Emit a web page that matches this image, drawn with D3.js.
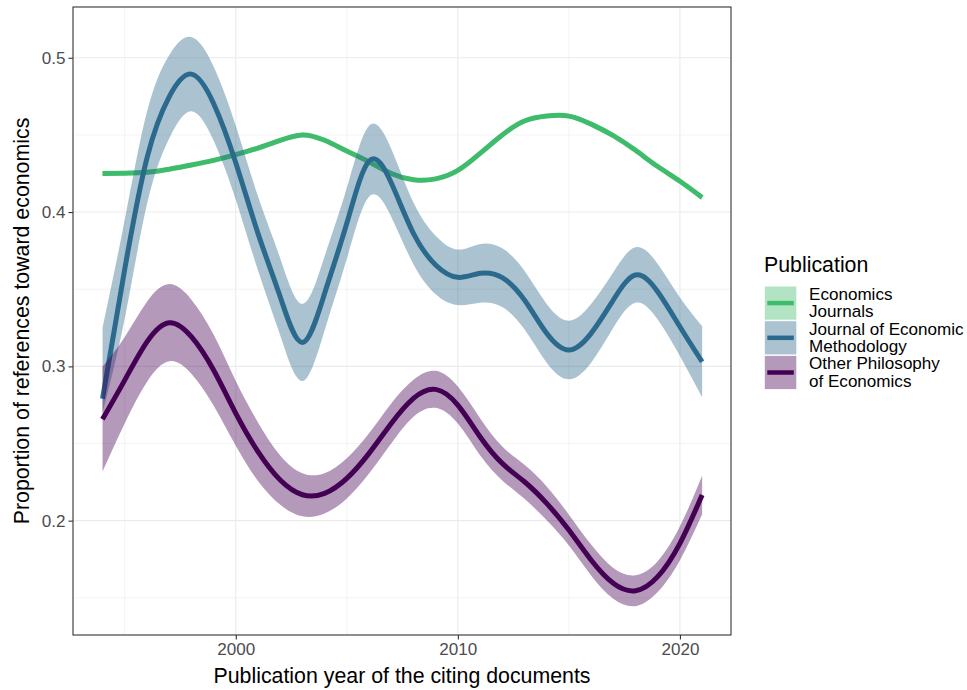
<!DOCTYPE html>
<html>
<head>
<meta charset="utf-8">
<script src="https://cdn.jsdelivr.net/npm/d3@7"></script>
<style>
  html, body { margin: 0; padding: 0; background: #ffffff; }
  svg { display: block; }
  text { font-family: "Liberation Sans", Arial, Helvetica, sans-serif; }
</style>
</head>
<body>
<svg id="chart" width="967" height="690"></svg>
<script>
// Publication years of the citing documents
const years = [1994, 1995, 1996, 1997, 1998, 1999, 2000, 2001, 2002, 2003, 2004, 2005, 2006, 2007,
               2008, 2009, 2010, 2011, 2012, 2013, 2014, 2015, 2016, 2017, 2018, 2019, 2020, 2021];

// Economics Journals: smoothed proportion and its (very narrow) confidence band
const econMean = [0.4250, 0.4252, 0.4258, 0.4278, 0.4305, 0.4335, 0.4372, 0.4415, 0.4465, 0.4500, 0.4465, 0.4395, 0.4325, 0.4250,
                  0.4210, 0.4215, 0.4270, 0.4380, 0.4500, 0.4590, 0.4622, 0.4622, 0.4570, 0.4495, 0.4400, 0.4295, 0.4200, 0.4095];
const econLow  = [0.4235, 0.4238, 0.4244, 0.4264, 0.4291, 0.4321, 0.4358, 0.4401, 0.4451, 0.4486, 0.4451, 0.4381, 0.4311, 0.4236,
                  0.4196, 0.4201, 0.4256, 0.4366, 0.4486, 0.4576, 0.4608, 0.4608, 0.4556, 0.4481, 0.4386, 0.4281, 0.4186, 0.4078];
const econHigh = [0.4265, 0.4266, 0.4272, 0.4292, 0.4319, 0.4349, 0.4386, 0.4429, 0.4479, 0.4514, 0.4479, 0.4409, 0.4339, 0.4264,
                  0.4224, 0.4229, 0.4284, 0.4394, 0.4514, 0.4604, 0.4636, 0.4636, 0.4584, 0.4509, 0.4414, 0.4309, 0.4214, 0.4112];

// Journal of Economic Methodology
const jemMean = [0.2790, 0.3630, 0.4350, 0.4747, 0.4894, 0.4704, 0.4320, 0.3862, 0.3451, 0.3155, 0.3473, 0.3927, 0.4330, 0.4190,
                 0.3862, 0.3657, 0.3577, 0.3603, 0.3575, 0.3430, 0.3214, 0.3106, 0.3214, 0.3430, 0.3592, 0.3484, 0.3257, 0.3030];
const jemLow  = [0.2700, 0.3310, 0.4050, 0.4477, 0.4654, 0.4464, 0.4080, 0.3622, 0.3201, 0.2905, 0.3233, 0.3697, 0.4100, 0.3970,
                 0.3662, 0.3467, 0.3397, 0.3413, 0.3385, 0.3240, 0.3024, 0.2916, 0.3024, 0.3250, 0.3412, 0.3304, 0.3067, 0.2800];
const jemHigh = [0.3250, 0.3950, 0.4650, 0.5017, 0.5134, 0.4944, 0.4560, 0.4102, 0.3701, 0.3405, 0.3713, 0.4157, 0.4560, 0.4410,
                 0.4062, 0.3847, 0.3757, 0.3793, 0.3765, 0.3620, 0.3404, 0.3296, 0.3404, 0.3610, 0.3772, 0.3664, 0.3447, 0.3260];

// Other Philosophy of Economics
const otherMean = [0.2658, 0.2911, 0.3159, 0.3283, 0.3192, 0.2976, 0.2695, 0.2447, 0.2263, 0.2168, 0.2177, 0.2274, 0.2436, 0.2630,
                   0.2793, 0.2851, 0.2749, 0.2544, 0.2371, 0.2252, 0.2112, 0.1939, 0.1745, 0.1594, 0.1546, 0.1637, 0.1853, 0.2166];
const otherLow  = [0.2318, 0.2631, 0.2899, 0.3033, 0.2952, 0.2746, 0.2485, 0.2257, 0.2103, 0.2028, 0.2047, 0.2144, 0.2306, 0.2500,
                   0.2673, 0.2731, 0.2629, 0.2424, 0.2261, 0.2142, 0.2002, 0.1839, 0.1645, 0.1494, 0.1446, 0.1537, 0.1743, 0.2041];
const otherHigh = [0.2998, 0.3191, 0.3419, 0.3533, 0.3432, 0.3206, 0.2905, 0.2637, 0.2423, 0.2308, 0.2307, 0.2404, 0.2566, 0.2760,
                   0.2913, 0.2971, 0.2869, 0.2664, 0.2481, 0.2362, 0.2222, 0.2039, 0.1845, 0.1694, 0.1646, 0.1737, 0.1963, 0.2291];

const seriesNames  = ["Economics Journals", "Journal of Economic Methodology", "Other Philosophy of Economics"];
const legendLines  = [["Economics", "Journals"], ["Journal of Economic", "Methodology"], ["Other Philosophy", "of Economics"]];
const seriesColors = ["#3fbc6b", "#2c6a8d", "#440154"];

const xTicks = [2000, 2010, 2020];
const xMinorTicks = [1995, 2005, 2015];
const yTicks = [0.2, 0.3, 0.4, 0.5];
const yMinorTicks = [0.15, 0.25, 0.35, 0.45];

const axisTitleX = "Publication year of the citing documents";
const axisTitleY = "Proportion of references toward economics";
const legendTitle = "Publication";

// ---- layout ----
const panel = { left: 73, right: 731, top: 7, bottom: 635 };
const svg = d3.select("#chart");

const x = d3.scaleLinear().domain([1992.67, 2022.3]).range([panel.left, panel.right]);
const y = d3.scaleLinear().domain([0.1259, 0.5329]).range([panel.bottom, panel.top]);

const series = [
  { mean: econMean,  low: econLow,  high: econHigh },
  { mean: jemMean,   low: jemLow,   high: jemHigh },
  { mean: otherMean, low: otherLow, high: otherHigh }
].map((s, i) => ({
  name: seriesNames[i],
  color: seriesColors[i],
  rows: years.map((yr, j) => ({ year: yr, mean: s.mean[j], low: s.low[j], high: s.high[j] }))
}));

// ---- grid ----
const grid = svg.append("g");
xMinorTicks.forEach(v => grid.append("line")
  .attr("x1", x(v)).attr("x2", x(v)).attr("y1", panel.top).attr("y2", panel.bottom)
  .attr("stroke", "#ebebeb").attr("stroke-width", 0.6));
yMinorTicks.forEach(v => grid.append("line")
  .attr("x1", panel.left).attr("x2", panel.right).attr("y1", y(v)).attr("y2", y(v))
  .attr("stroke", "#ebebeb").attr("stroke-width", 0.6));
xTicks.forEach(v => grid.append("line")
  .attr("x1", x(v)).attr("x2", x(v)).attr("y1", panel.top).attr("y2", panel.bottom)
  .attr("stroke", "#ebebeb").attr("stroke-width", 1.1));
yTicks.forEach(v => grid.append("line")
  .attr("x1", panel.left).attr("x2", panel.right).attr("y1", y(v)).attr("y2", y(v))
  .attr("stroke", "#ebebeb").attr("stroke-width", 1.1));

// ---- smoothed series: band then line, group by group ----
const curve = d3.curveNatural;
const band = d3.area().curve(curve)
  .x(d => x(d.year)).y0(d => y(d.low)).y1(d => y(d.high));
const line = d3.line().curve(curve)
  .x(d => x(d.year)).y(d => y(d.mean));

const plot = svg.append("g");
series.forEach(s => {
  plot.append("path").datum(s.rows).attr("d", band)
    .attr("fill", s.color).attr("fill-opacity", 0.4).attr("stroke", "none");
  plot.append("path").datum(s.rows).attr("d", line)
    .attr("fill", "none").attr("stroke", s.color).attr("stroke-width", 5)
    .attr("stroke-linejoin", "round");
});

// ---- panel border ----
svg.append("rect")
  .attr("x", panel.left).attr("y", panel.top)
  .attr("width", panel.right - panel.left).attr("height", panel.bottom - panel.top)
  .attr("fill", "none").attr("stroke", "#333333").attr("stroke-width", 1.1);

// ---- axes ----
const xAxis = d3.axisBottom(x).tickValues(xTicks).tickSize(4.5).tickPadding(3).tickFormat(d3.format("d"));
const yAxis = d3.axisLeft(y).tickValues(yTicks).tickSize(4.5).tickPadding(3).tickFormat(d3.format(".1f"));

const gx = svg.append("g").attr("transform", `translate(0,${panel.bottom})`).call(xAxis);
const gy = svg.append("g").attr("transform", `translate(${panel.left},0)`).call(yAxis);
[gx, gy].forEach(g => {
  g.select(".domain").remove();
  g.selectAll(".tick line").attr("stroke", "#333333").attr("stroke-width", 1.1);
  g.selectAll(".tick text").attr("fill", "#4d4d4d").style("font-size", "17.07px")
    .style("font-family", '"Liberation Sans", Arial, Helvetica, sans-serif');
});
gx.selectAll(".tick text").attr("dy", "0.71em");

// ---- axis titles ----
svg.append("text")
  .attr("x", (panel.left + panel.right) / 2).attr("y", 683)
  .attr("text-anchor", "middle").attr("fill", "#000")
  .style("font-size", "21.33px").text(axisTitleX);
svg.append("text")
  .attr("transform", `translate(28.5,${(panel.top + panel.bottom) / 2}) rotate(-90)`)
  .attr("text-anchor", "middle").attr("fill", "#000")
  .style("font-size", "21.33px").text(axisTitleY);

// ---- legend ----
const legend = svg.append("g");
legend.append("text").attr("x", 764).attr("y", 272.3)
  .attr("fill", "#000").style("font-size", "21.33px").text(legendTitle);

const keyTop = 286.5, keyStep = 34.7, keyW = 31.5, keyH = 33.2, keyX = 764.8;
series.forEach((s, i) => {
  const top = keyTop + i * keyStep;
  const cy = top + keyH / 2;
  legend.append("rect").attr("x", keyX).attr("y", top).attr("width", keyW).attr("height", keyH)
    .attr("fill", s.color).attr("fill-opacity", 0.4);
  legend.append("line").attr("x1", keyX + 2.5).attr("x2", keyX + keyW - 2.5)
    .attr("y1", cy).attr("y2", cy)
    .attr("stroke", s.color).attr("stroke-width", 4.5);
  const t = legend.append("text").attr("x", 809).attr("fill", "#000").style("font-size", "17.07px");
  legendLines[i].forEach((ln, k) => {
    t.append("tspan").attr("x", 809).attr("y", cy - 3.3 + k * 17.3).text(ln);
  });
});
</script>
</body>
</html>
